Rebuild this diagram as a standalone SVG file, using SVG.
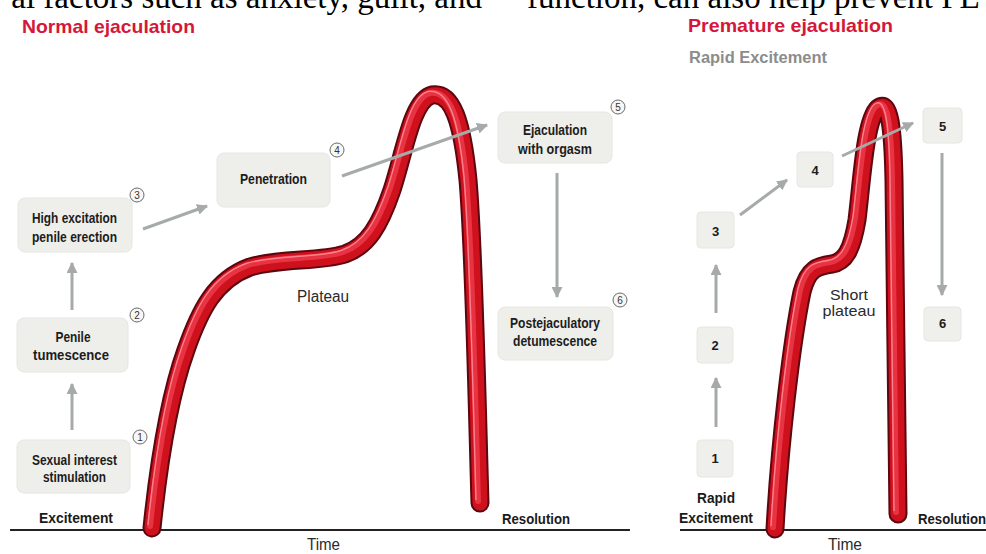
<svg xmlns="http://www.w3.org/2000/svg" width="986" height="554" viewBox="0 0 986 554">
  <style>
    .serif { font-family: "Liberation Serif", "Times New Roman", serif; font-size: 33px; fill: #000; }
    .title { font-family: "Liberation Sans", Arial, sans-serif; font-weight: bold; font-size: 19px; fill: #d5173a; }
    .sub { font-family: "Liberation Sans", Arial, sans-serif; font-weight: bold; font-size: 16px; fill: #8c8c8c; }
    .lbl { font-family: "Liberation Sans", Arial, sans-serif; font-weight: bold; font-size: 14px; fill: #1c1c1c; text-anchor: middle; }
    .phase { font-family: "Liberation Sans", Arial, sans-serif; font-weight: bold; font-size: 15px; fill: #1a1a1a; }
    .note { font-family: "Liberation Sans", Arial, sans-serif; font-size: 16px; fill: #2a2a2a; }
    .note-s { font-family: "Liberation Sans", Arial, sans-serif; font-size: 15px; fill: #2a2a2a; text-anchor: middle; }
    .box { fill: #eeeeea; stroke: #e6e6e2; stroke-width: 1; }
    .sq { fill: #efefec; stroke: #e6e6e2; stroke-width: 1; }
    .num { font-family: "Liberation Sans", Arial, sans-serif; font-weight: bold; font-size: 13px; fill: #1c1c1c; text-anchor: middle; }
    .badge { fill: #f7f7f5; stroke: #6a6a6a; stroke-width: 1; }
    .badge-t { font-family: "Liberation Sans", Arial, sans-serif; font-size: 10px; fill: #333; text-anchor: middle; }
    .axis { stroke: #222; stroke-width: 2; }
    .arrow { stroke: #a6aaa8; stroke-width: 3; fill: none; marker-end: url(#head); }
    .tube-edge { fill: none; stroke: #5c0610; stroke-width: 19; stroke-linecap: round; stroke-linejoin: round; }
    .tube-body { fill: none; stroke: #cf101d; stroke-width: 15; stroke-linecap: round; stroke-linejoin: round; }
    .tube-shine { fill: none; stroke: #e83442; stroke-width: 6; stroke-linecap: round; }
    .tube-glint { fill: none; stroke: #ff8f9b; stroke-width: 1.4; stroke-linecap: round; opacity: 0.85; }
  </style>
  <defs>
    <marker id="head" viewBox="0 0 10 10" refX="9" refY="5" markerWidth="11" markerHeight="11" markerUnits="userSpaceOnUse" orient="auto">
      <path d="M0,0 L10,5 L0,10 z" fill="#a6aaa8"/>
    </marker>
    <path id="curveNormal" d="M152,528 C158,470 168,400 186,350 C200,310 215,280 250,267 C280,258 320,262 345,254 C368,246 380,225 392,190 C405,150 412,100 432,95 C452,92 462,120 468,180 C474,250 477,400 480,503"/>
    <path id="curvePremature" d="M775,529 C780,440 792,340 802,292 C808,268 818,266 832,264 C845,262 852,250 857,220 C862,180 865,120 878,108 C890,98 893,130 894,180 C895,280 897,420 898,514"/>
  </defs>

  <rect width="986" height="554" fill="#ffffff"/>

  <!-- running text of the page above the figure -->
  <text class="serif" x="482" y="7.5" text-anchor="end">al factors such as anxiety, guilt, and</text>
  <text class="serif" x="527" y="7.5">function, can also help prevent PE [</text>

  <!-- panel headings -->
  <text class="title" x="22" y="33" textLength="173" lengthAdjust="spacingAndGlyphs">Normal ejaculation</text>
  <text class="title" x="688" y="32" textLength="205" lengthAdjust="spacingAndGlyphs">Premature ejaculation</text>
  <text class="sub" x="689" y="63" textLength="138" lengthAdjust="spacingAndGlyphs">Rapid Excitement</text>

  <!-- time axes -->
  <g id="axes">
    <line class="axis" x1="10" y1="530" x2="630" y2="530"/>
    <line class="axis" x1="680" y1="530" x2="986" y2="530"/>
    <text class="note" x="307" y="550" textLength="33" lengthAdjust="spacingAndGlyphs">Time</text>
    <text class="note" x="828" y="550" textLength="34" lengthAdjust="spacingAndGlyphs">Time</text>
    <text class="phase" x="39" y="523" textLength="74" lengthAdjust="spacingAndGlyphs">Excitement</text>
    <text class="phase" x="502" y="524" textLength="68" lengthAdjust="spacingAndGlyphs">Resolution</text>
    <text class="phase" x="697" y="503" textLength="38" lengthAdjust="spacingAndGlyphs">Rapid</text>
    <text class="phase" x="679" y="523" textLength="74" lengthAdjust="spacingAndGlyphs">Excitement</text>
    <text class="phase" x="918" y="524" textLength="68" lengthAdjust="spacingAndGlyphs">Resolution</text>
  </g>

  <!-- response curves drawn as shaded tubes -->
  <g id="curve-normal">
    <use href="#curveNormal" class="tube-edge"/>
    <use href="#curveNormal" class="tube-body"/>
    <use href="#curveNormal" class="tube-shine" transform="translate(-2,-2)"/>
    <use href="#curveNormal" class="tube-glint" transform="translate(-4,-3.5)"/>
    <text class="note" x="297" y="302" textLength="52" lengthAdjust="spacingAndGlyphs">Plateau</text>
  </g>
  <g id="curve-premature">
    <use href="#curvePremature" class="tube-edge"/>
    <use href="#curvePremature" class="tube-body"/>
    <use href="#curvePremature" class="tube-shine" transform="translate(-2,-2)"/>
    <use href="#curvePremature" class="tube-glint" transform="translate(-4,-3.5)"/>
    <text class="note-s" x="849" y="300" textLength="38" lengthAdjust="spacingAndGlyphs">Short</text>
    <text class="note-s" x="849" y="316" textLength="53" lengthAdjust="spacingAndGlyphs">plateau</text>
  </g>

  <!-- normal ejaculation stages -->
  <g id="n1">
    <rect class="box" x="17" y="440" width="113" height="53" rx="7"/>
    <text class="lbl" x="74.5" y="465" textLength="85" lengthAdjust="spacingAndGlyphs">Sexual interest</text>
    <text class="lbl" x="74.5" y="482" textLength="63" lengthAdjust="spacingAndGlyphs">stimulation</text>
    <circle class="badge" cx="140" cy="437" r="7"/>
    <text class="badge-t" x="140" y="440.5">1</text>
  </g>
  <g id="n2">
    <rect class="box" x="17" y="318" width="111" height="54" rx="7"/>
    <text class="lbl" x="73" y="342" textLength="35" lengthAdjust="spacingAndGlyphs">Penile</text>
    <text class="lbl" x="71" y="360" textLength="76" lengthAdjust="spacingAndGlyphs">tumescence</text>
    <circle class="badge" cx="137" cy="315" r="7"/>
    <text class="badge-t" x="137" y="318.5">2</text>
  </g>
  <g id="n3">
    <rect class="box" x="18" y="198" width="114" height="54" rx="7"/>
    <text class="lbl" x="74.5" y="223" textLength="85" lengthAdjust="spacingAndGlyphs">High excitation</text>
    <text class="lbl" x="74.5" y="242" textLength="85" lengthAdjust="spacingAndGlyphs">penile erection</text>
    <circle class="badge" cx="137" cy="195" r="7"/>
    <text class="badge-t" x="137" y="198.5">3</text>
  </g>
  <g id="n4">
    <rect class="box" x="217" y="153" width="113" height="54" rx="7"/>
    <text class="lbl" x="273.5" y="184" textLength="67" lengthAdjust="spacingAndGlyphs">Penetration</text>
    <circle class="badge" cx="337" cy="150" r="7"/>
    <text class="badge-t" x="337" y="153.5">4</text>
  </g>
  <g id="n5">
    <rect class="box" x="498" y="112" width="114" height="51" rx="7"/>
    <text class="lbl" x="555" y="135" textLength="64" lengthAdjust="spacingAndGlyphs">Ejaculation</text>
    <text class="lbl" x="555" y="154" textLength="74" lengthAdjust="spacingAndGlyphs">with orgasm</text>
    <circle class="badge" cx="618" cy="107" r="7"/>
    <text class="badge-t" x="618" y="110.5">5</text>
  </g>
  <g id="n6">
    <rect class="box" x="498" y="307" width="115" height="53" rx="7"/>
    <text class="lbl" x="555" y="328" textLength="90" lengthAdjust="spacingAndGlyphs">Postejaculatory</text>
    <text class="lbl" x="555" y="346" textLength="84" lengthAdjust="spacingAndGlyphs">detumescence</text>
    <circle class="badge" cx="620" cy="300" r="7"/>
    <text class="badge-t" x="620" y="303.5">6</text>
  </g>

  <!-- premature ejaculation stages -->
  <g id="p1">
    <rect class="sq" x="697" y="440" width="36" height="37" rx="4"/>
    <text class="num" x="715" y="463">1</text>
  </g>
  <g id="p2">
    <rect class="sq" x="697" y="327" width="36" height="36" rx="4"/>
    <text class="num" x="715" y="350">2</text>
  </g>
  <g id="p3">
    <rect class="sq" x="697" y="212" width="37" height="36" rx="4"/>
    <text class="num" x="715.5" y="236">3</text>
  </g>
  <g id="p4">
    <rect class="sq" x="797" y="152" width="36" height="35" rx="4"/>
    <text class="num" x="815" y="175">4</text>
  </g>
  <g id="p5">
    <rect class="sq" x="923" y="108" width="39" height="35" rx="4"/>
    <text class="num" x="942.5" y="131">5</text>
  </g>
  <g id="p6">
    <rect class="sq" x="924" y="307" width="37" height="34" rx="4"/>
    <text class="num" x="942.5" y="328">6</text>
  </g>

  <!-- stage-to-stage connectors -->
  <g id="connectors">
    <line class="arrow" x1="72" y1="430" x2="72" y2="384"/>
    <line class="arrow" x1="72" y1="310" x2="72" y2="263"/>
    <line class="arrow" x1="143" y1="229" x2="207" y2="206"/>
    <line class="arrow" x1="342" y1="176" x2="487" y2="125"/>
    <line class="arrow" x1="557" y1="173" x2="557" y2="297"/>
    <line class="arrow" x1="716" y1="427" x2="716" y2="378"/>
    <line class="arrow" x1="716" y1="313" x2="716" y2="265"/>
    <line class="arrow" x1="740" y1="215" x2="787" y2="180"/>
    <line class="arrow" x1="842" y1="156" x2="913" y2="123"/>
    <line class="arrow" x1="942" y1="153" x2="942" y2="295"/>
  </g>
</svg>
